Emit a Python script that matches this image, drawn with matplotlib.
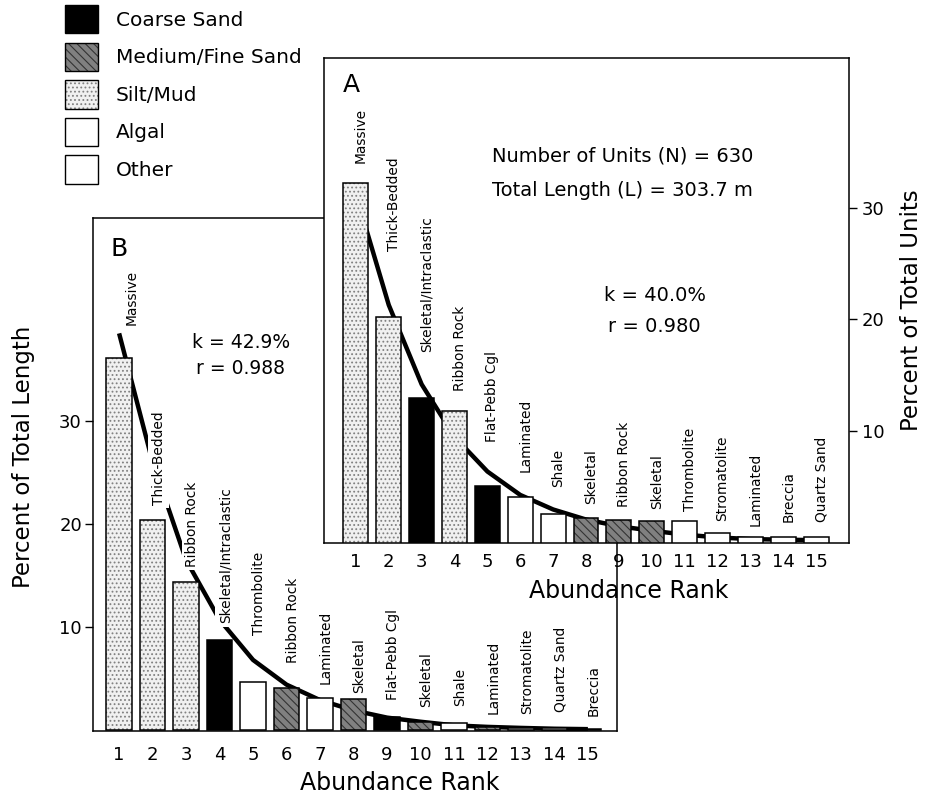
import matplotlib
matplotlib.use("Agg")
import matplotlib.pyplot as plt
from matplotlib.patches import Patch
import numpy as np

plt.rcParams['font.family'] = ['DejaVu Sans']
plt.rcParams['hatch.linewidth'] = 0.8

# ---------------- data ----------------
ranks = list(range(1, 16))

# Panel A: percent of total units
names_A = ["Massive", "Thick-Bedded", "Skeletal/Intraclastic", "Ribbon Rock",
           "Flat-Pebb Cgl", "Laminated", "Shale", "Skeletal", "Ribbon Rock",
           "Skeletal", "Thrombolite", "Stromatolite", "Laminated", "Breccia",
           "Quartz Sand"]
types_A = ["silt", "silt", "coarse", "silt", "coarse", "other", "other",
           "medfine", "medfine", "medfine", "algal", "algal", "other",
           "other", "other"]
values_A = [32.2, 20.2, 13.0, 11.8, 5.1, 4.1, 2.6, 2.2, 2.1, 2.0, 2.0,
            0.9, 0.5, 0.5, 0.5]
fit_A = [31.2, 21.3, 14.2, 9.5, 6.4, 4.3, 3.0, 2.1, 1.5, 1.1, 0.75,
         0.5, 0.35, 0.3, 0.25]

# Panel B: percent of total length
names_B = ["Massive", "Thick-Bedded", "Ribbon Rock", "Skeletal/Intraclastic",
           "Thrombolite", "Ribbon Rock", "Laminated", "Skeletal",
           "Flat-Pebb Cgl", "Skeletal", "Shale", "Laminated", "Stromatolite",
           "Quartz Sand", "Breccia"]
types_B = ["silt", "silt", "silt", "coarse", "algal", "medfine", "other",
           "medfine", "coarse", "medfine", "other", "medfine", "algal",
           "other", "other"]
values_B = [36.1, 20.4, 14.4, 8.7, 4.7, 4.1, 3.1, 3.0, 1.3, 0.8, 0.7,
            0.3, 0.2, 0.15, 0.1]
fit_B = [38.5, 26.0, 16.5, 10.7, 6.8, 4.4, 2.9, 1.9, 1.2, 0.8, 0.45,
         0.3, 0.2, 0.12, 0.08]

legend_keys = ["coarse", "medfine", "silt", "algal", "other"]
legend_labels = ["Coarse Sand", "Medium/Fine Sand", "Silt/Mud", "Algal", "Other"]

stats_A = ["Number of Units (N) = 630", "Total Length (L) = 303.7 m",
           "k = 40.0%", "r = 0.980"]
stats_B = ["k = 42.9%", "r = 0.988"]

# ---------------- styles / layout ----------------
STYLE = {
    "coarse":  dict(face="black",   hatch=None,     hcol="black"),
    "medfine": dict(face="#808080", hatch="\\\\\\\\", hcol="#333333"),
    "silt":    dict(face="#f0f0f0", hatch="....",   hcol="#808080"),
    "algal":   dict(face="white",   hatch=None,     hcol="white"),
    "other":   dict(face="white",   hatch=None,     hcol="white"),
}
# label gaps above bar tops and sideways shifts (pixels)
gap_A = [20, 66, 46, 20, 44, 25, 27, 14, 13, 12, 10, 12, 11, 15, 15]
gap_B = [33, 15, 15, 17, 47, 25, 14, 6, 17, 15, 17, 13, 14, 16, 13]
dx_A = [5] * 15
dx_B = [13] + [6] * 14

W, H = 927, 797
DPI = 100
fig = plt.figure(figsize=(W / DPI, H / DPI), dpi=DPI)
fig.patch.set_facecolor("white")


def px_axes(l, t, r, b):
    return [l / W, 1 - b / H, (r - l) / W, (b - t) / H]


BW = 0.76


def draw_bars(ax, vals, types):
    for x, v, t in zip(ranks, vals, types):
        s = STYLE[t]
        ax.bar(x, v, width=BW, color=s["face"], edgecolor=s["hcol"],
               hatch=s["hatch"], linewidth=0, zorder=3)
    ax.bar(ranks, vals, width=BW, fill=False, edgecolor="black",
           linewidth=1.1, zorder=4)


def draw_labels(ax, vals, names, gaps, dxs):
    for x, v, n, g, d in zip(ranks, vals, names, gaps, dxs):
        ax.annotate(n, xy=(x, v), xytext=(d * 72 / DPI, g * 72 / DPI),
                    textcoords="offset points", rotation=90,
                    ha="center", va="bottom", fontsize=9.9, zorder=5,
                    bbox=dict(facecolor="white", edgecolor="none", pad=2.5))


# ---------------- Panel B ----------------
axB = fig.add_axes(px_axes(93, 218, 617, 731))
axB.plot(ranks, fit_B, color="black", lw=3.2, zorder=2,
         solid_capstyle="butt")
draw_bars(axB, values_B, types_B)
draw_labels(axB, values_B, names_B, gap_B, dx_B)
axB.set_xlim(0.22, 15.87)
axB.set_ylim(-0.1, 49.7)
axB.set_xticks(ranks)
axB.set_yticks([10, 20, 30])
axB.tick_params(axis="x", length=0, pad=11, labelsize=13)
axB.tick_params(axis="y", length=6, width=1, pad=2, labelsize=13)
axB.set_xlabel("Abundance Rank", fontsize=17)
axB.xaxis.set_label_coords(0.586, -0.077)
axB.set_ylabel("Percent of Total Length", fontsize=16.5)
axB.yaxis.set_label_coords(-0.11, 0.534)
axB.text(0.033, 0.962, "B", transform=axB.transAxes, fontsize=18,
         ha="left", va="top")
axB.text(0.282, 0.757, stats_B[0], transform=axB.transAxes, fontsize=13.5,
         ha="center", va="center")
axB.text(0.282, 0.707, stats_B[1], transform=axB.transAxes, fontsize=13.5,
         ha="center", va="center")
for sp in axB.spines.values():
    sp.set_linewidth(1.1)

# ---------------- Panel A ----------------
axA = fig.add_axes(px_axes(324, 58, 849, 543))
axA.set_facecolor("white")
axA.plot(ranks, fit_A, color="black", lw=3.2, zorder=2,
         solid_capstyle="butt")
draw_bars(axA, values_A, types_A)
draw_labels(axA, values_A, names_A, gap_A, dx_A)
axA.set_xlim(0.03, 16.0)
axA.set_ylim(0, 43.4)
axA.set_xticks(ranks)
axA.set_yticks([10, 20, 30])
axA.yaxis.tick_right()
axA.yaxis.set_label_position("right")
axA.tick_params(axis="x", length=0, pad=7, labelsize=13)
axA.tick_params(axis="y", length=6, width=1, pad=3, labelsize=13)
axA.set_xlabel("Abundance Rank", fontsize=17)
axA.xaxis.set_label_coords(0.58, -0.075)
axA.set_ylabel("Percent of Total Units", fontsize=16.5)
axA.yaxis.set_label_coords(1.097, 0.48)
axA.text(0.035, 0.97, "A", transform=axA.transAxes, fontsize=18,
         ha="left", va="top")
axA.text(0.568, 0.797, stats_A[0], transform=axA.transAxes, fontsize=14,
         ha="center", va="center")
axA.text(0.568, 0.727, stats_A[1], transform=axA.transAxes, fontsize=14,
         ha="center", va="center")
axA.text(0.63, 0.51, stats_A[2], transform=axA.transAxes, fontsize=14,
         ha="center", va="center")
axA.text(0.63, 0.447, stats_A[3], transform=axA.transAxes, fontsize=14,
         ha="center", va="center")
for sp in axA.spines.values():
    sp.set_linewidth(1.1)

# ---------------- legend ----------------
handles = []
for k in legend_keys:
    s = STYLE[k]
    fillp = Patch(facecolor=s["face"], edgecolor=s["hcol"], hatch=s["hatch"],
                  linewidth=0)
    edge = Patch(facecolor="none", edgecolor="black", linewidth=1.0)
    handles.append((fillp, edge))
fig.legend(handles, legend_labels, loc="upper left",
           bbox_to_anchor=(65 / W, 1 - 5 / H), frameon=False,
           fontsize=14.5, handlelength=1.66, handleheight=1.8,
           labelspacing=0.45, handletextpad=0.85, borderpad=0,
           borderaxespad=0)

fig.savefig("out.png", dpi=DPI, facecolor="white")
